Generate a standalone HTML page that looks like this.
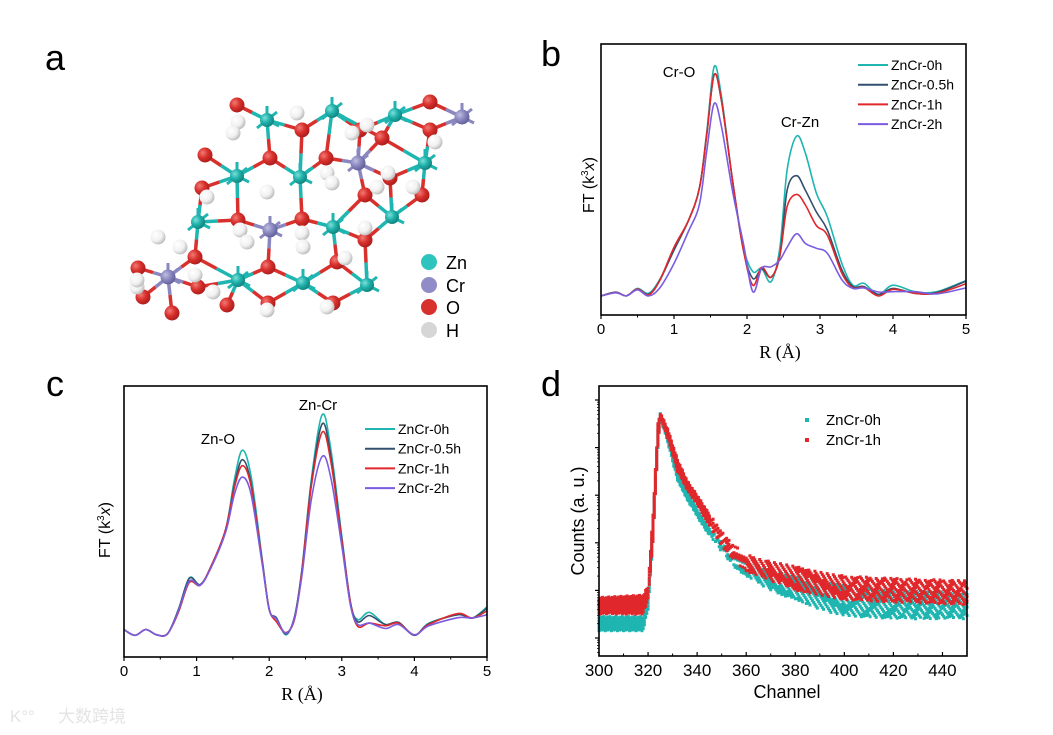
<!DOCTYPE html>
<html><head><meta charset="utf-8"><style>
body{margin:0;background:#fff;}
svg{display:block;font-family:"Liberation Sans",Arial,sans-serif;}
</style></head><body>
<svg id="fig" width="1053" height="735" viewBox="0 0 1053 735" xmlns="http://www.w3.org/2000/svg">
<defs>
<radialGradient id="gH" cx="0.35" cy="0.35" r="0.7"><stop offset="0" stop-color="#ffffff"/><stop offset="0.6" stop-color="#f0f0f0"/><stop offset="1" stop-color="#b8b8b8"/></radialGradient>
<radialGradient id="gO" cx="0.35" cy="0.35" r="0.7"><stop offset="0" stop-color="#f27a76"/><stop offset="0.5" stop-color="#d8302c"/><stop offset="1" stop-color="#a81c1a"/></radialGradient>
<radialGradient id="gZ" cx="0.35" cy="0.35" r="0.7"><stop offset="0" stop-color="#7de0da"/><stop offset="0.5" stop-color="#1fb0aa"/><stop offset="1" stop-color="#11807b"/></radialGradient>
<radialGradient id="gC" cx="0.35" cy="0.35" r="0.7"><stop offset="0" stop-color="#c0bee2"/><stop offset="0.5" stop-color="#8a87c0"/><stop offset="1" stop-color="#5f5c96"/></radialGradient>
</defs>
<text x="45" y="70" font-size="36">a</text>
<text x="541" y="66" font-size="36">b</text>
<text x="46" y="396" font-size="36">c</text>
<text x="541" y="396" font-size="36">d</text>
<g id="structure"></g>
<g id="pb"></g>
<g id="pc"></g>
<g id="pd"></g>
<text x="58" y="722" font-size="17" fill="#e4e4e4" font-family="'Liberation Sans','Noto Sans CJK SC',sans-serif">大数跨境</text>
<text x="10" y="722" font-size="17" fill="#e4e4e4">K°°</text>
</svg>
<script>
const NS="http://www.w3.org/2000/svg";
function mk(parent,tag,attrs,text){const e=document.createElementNS(NS,tag);for(const k in attrs)e.setAttribute(k,attrs[k]);if(text!==undefined)e.textContent=text;parent.appendChild(e);return e;}
const TEAL="#1fb5b0",DARK="#34506e",RED="#e0282c",PURP="#7a5ce0";
const seriesNames=["ZnCr-0h","ZnCr-0.5h","ZnCr-1h","ZnCr-2h"];
const seriesColors=[TEAL,DARK,RED,PURP];

/* ---------- panel b data ---------- */
const bR=[0,0.2,0.35,0.5,0.65,0.8,1.0,1.2,1.35,1.45,1.55,1.65,1.8,1.95,2.08,2.2,2.33,2.45,2.55,2.68,2.8,2.95,3.1,3.3,3.45,3.6,3.8,4.0,4.3,4.6,5.0];
const b0h =[7.0,8.4,7.1,9.8,8.0,12.9,24,35,47,68,91.6,80.6,50,25,16,17.2,12.3,25,53.5,66,59.7,45,36.3,19,11,11.7,7.6,11,8.6,8.6,12.7];
const b05h=[7.0,8.4,7.1,9.6,7.6,12.5,24,35,47,67,88.6,79,50,24,13.5,17,14,22,46,51.4,46,38,31.4,16.6,10.5,10.5,7.6,9.8,8.0,8.3,12.5];
const b1h =[7.0,8.3,7.1,9.6,7.4,12.5,25,35,47,67,88.6,79,50,24,11,17.6,13.9,22,40,44.5,40.6,33,29.5,15.4,10,10.2,7.0,9.5,8.0,8.0,11.5];
const b2h =[7.0,8.2,7.1,9.3,7.0,9.8,19,31,41,61,78,69.5,46,26.4,8.6,17.2,17.8,20.3,25,30,26.4,24.6,22.8,13,9.8,10,8.5,8.6,8.6,7.8,10.0];
const bSeries=[b0h,b05h,b1h,b2h];
const bXTicks=[0,1,2,3,4,5];

/* ---------- panel c data ---------- */
const cR=[0,0.15,0.3,0.45,0.6,0.75,0.9,1.05,1.2,1.4,1.52,1.63,1.75,1.9,2.0,2.1,2.23,2.35,2.45,2.58,2.73,2.85,3.0,3.12,3.22,3.38,3.6,3.78,4.0,4.2,4.6,4.8,5.0];
const c0h =[10.1,8,10.1,8.2,8.6,17.5,29.2,26.7,33.5,47,65.4,76.3,66.7,37,17.5,14.4,8.2,15,32.2,65.4,89.4,76.5,44.5,20,13.8,16.5,12,12.8,8,12.5,15.6,14.4,18.5];
const c05h=[10.1,8,10.1,8.2,8.6,17.5,29,26.7,33.5,47,63.5,72.8,64,36,17.5,14.4,8.5,15,32,64,86,74,43.5,20,13,15.3,12,12.8,8,12.3,15.6,14.4,18];
const c1h =[10.1,8,10.1,8.2,8.6,16.5,27.5,26.5,33.5,47,62.5,70.6,63,36,17.8,13,9.0,14,31.5,63,83,72,43,20,11.3,12.5,11.5,12.5,8.2,12,16,14.4,17];
const c2h =[10.1,8,10.1,8.2,8.6,17,28,26.5,33,46,60,66.4,60,35,17.5,14,8.8,14.5,30,58,74,66,41,19,12,12.5,10.5,12,8.2,11.5,14.5,14.4,15.6];
const cSeries=[c0h,c05h,c1h,c2h];
const cXTicks=[0,1,2,3,4,5];

/* ---------- panel d data (log10 counts band: low/high) ---------- */
const dCh=[300,318,320,322,324,325,328,332,336,340,345,350,355,360,370,380,390,400,420,450];
const dRedLo=[0.5,0.5,0.8,2.0,4.0,4.6,4.2,3.5,3.1,2.8,2.35,1.9,1.6,1.4,1.2,1.0,0.9,0.8,0.75,0.7];
const dRedHi=[0.85,0.9,1.1,2.6,4.5,4.73,4.4,3.75,3.3,3.0,2.6,2.25,1.95,1.75,1.6,1.5,1.4,1.3,1.25,1.2];
const dTealLo=[0.15,0.15,0.6,2.0,4.0,4.6,4.1,3.3,2.9,2.55,2.15,1.8,1.5,1.3,1.0,0.8,0.6,0.45,0.4,0.4];
const dTealHi=[0.45,0.45,0.9,2.5,4.4,4.73,4.3,3.55,3.1,2.7,2.3,2.0,1.75,1.55,1.4,1.3,1.2,1.1,1.0,0.95];
const dXTicks=[300,320,340,360,380,400,420,440];
const dYDecades=[0,1,2,3,4,5];

function smoothPath(pts){let d="M"+pts[0][0].toFixed(1)+","+pts[0][1].toFixed(1);
 for(let i=0;i<pts.length-1;i++){const p0=pts[Math.max(0,i-1)],p1=pts[i],p2=pts[i+1],p3=pts[Math.min(pts.length-1,i+2)];
  const c1=[p1[0]+(p2[0]-p0[0])/6,p1[1]+(p2[1]-p0[1])/6],c2=[p2[0]-(p3[0]-p1[0])/6,p2[1]-(p3[1]-p1[1])/6];
  d+=" C"+c1[0].toFixed(1)+","+c1[1].toFixed(1)+" "+c2[0].toFixed(1)+","+c2[1].toFixed(1)+" "+p2[0].toFixed(1)+","+p2[1].toFixed(1);}
 return d;}

function ftPanel(g,box,R,series,ticks,labels,legendX,legendY,titleX,titleY,ftX,ftY,key){
 const X=v=>box.l+(v-0)/5*(box.r-box.l);
 const Y=v=>box.b-v/100*(box.b-box.t);
 for(let s=0;s<series.length;s++){
  const pts=R.map((r,i)=>[X(r),Y(series[s][i])]);
  const p=mk(g,"path",{d:smoothPath(pts),fill:"none",stroke:seriesColors[s],"stroke-width":1.6});
  
  
 }
 const fr=mk(g,"rect",{x:box.l,y:box.t,width:box.r-box.l,height:box.b-box.t,fill:"none",stroke:"#000","stroke-width":1.6});
 
 
 for(let i=0;i<ticks.length;i++){
  const t=ticks[i];
  const tk=mk(g,"line",{x1:X(t),x2:X(t),y1:box.b,y2:box.b+4,stroke:"#000","stroke-width":1.2});
  
  
  if(i<ticks.length-1){const m=mk(g,"line",{x1:X(t+0.5),x2:X(t+0.5),y1:box.b,y2:box.b+2.5,stroke:"#000","stroke-width":1});
   
   }
  const tl=mk(g,"text",{x:X(t),y:box.b+19,"font-size":15,"text-anchor":"middle"},String(t));
  
  
 }
 const xt=mk(g,"text",{x:titleX,y:titleY,"font-size":18,"text-anchor":"middle","font-family":"'Liberation Serif',serif"},"R (Å)");
 
 
 const yt=mk(g,"text",{transform:`translate(${ftX},${ftY}) rotate(-90)`,"font-size":16,"text-anchor":"middle"});
 
 
 yt.innerHTML='FT (k<tspan dy="-6" font-size="10">3</tspan><tspan dy="6" font-style="italic">x</tspan>)';
 for(const L of labels){const t=mk(g,"text",{x:L[1],y:L[2],"font-size":15,"text-anchor":"middle"},L[0]);
  
  }
 for(let s=0;s<seriesNames.length;s++){
  const y=legendY+s*19.7;
  const ll=mk(g,"line",{x1:legendX,x2:legendX+30,y1:y,y2:y,stroke:seriesColors[s],"stroke-width":2});
  
  
  const lt=mk(g,"text",{x:legendX+33,y:y+5,"font-size":14},seriesNames[s]);
  
  
 }
}
ftPanel(document.getElementById("pb"),{l:601,r:966,t:44,b:315},bR,bSeries,bXTicks,[["Cr-O",679,77],["Cr-Zn",800,127]],858,65,780,358,594,185,"b");
ftPanel(document.getElementById("pc"),{l:124,r:487,t:386,b:657},cR,cSeries,cXTicks,[["Zn-O",218,444],["Zn-Cr",318,410]],365,429,302,700,110,530,"c");

/* ---------- panel d ---------- */
(function(){
 const g=document.getElementById("pd");
 const box={l:599,r:967,t:386,b:656};
 const X=c=>box.l+(c-300)/150*(box.r-box.l);
 const Y=lv=>638-lv*47.6;
 function interp(arr,c){for(let i=0;i<dCh.length-1;i++){if(c<=dCh[i+1]){const f=(c-dCh[i])/(dCh[i+1]-dCh[i]);return arr[i]+f*(arr[i+1]-arr[i]);}}return arr[arr.length-1];}
 function band(lo,hi,color,nm,phase){
  const grp=mk(g,"g",{fill:color});
  
  
  let k=0;
  for(let c=300;c<=450;c+=0.5){
   k++;
   const a=Y(interp(lo,c)),b=Y(interp(hi,c));
   const top=Math.min(a,b),bot=Math.max(a,b);
   const span=bot-top;
   const step=(c>=321&&c<=345)?2.2:(c<321?3.2:4.2);
   const off=((k*7+phase)%5)/5*step;
   for(let y=top+off;y<=bot;y+=step){if(c>345 && ((k+Math.round(y))%3===0))continue;mk(grp,"rect",{x:(X(c)-1.5).toFixed(1),y:(y-1.5).toFixed(1),width:3,height:3});}
  }
 }
 band(dTealLo,dTealHi,TEAL,"d-series-zncr-0h",0);
 band(dRedLo,dRedHi,RED,"d-series-zncr-1h",2);
 const fr=mk(g,"rect",{x:box.l,y:box.t,width:box.r-box.l,height:box.b-box.t,fill:"none",stroke:"#000","stroke-width":1.6});
 
 
 for(const t of dXTicks){
  const tk=mk(g,"line",{x1:X(t),x2:X(t),y1:box.b,y2:box.b-4,stroke:"#000","stroke-width":1.2});
  
  
  const m=mk(g,"line",{x1:X(t+10),x2:X(t+10),y1:box.b,y2:box.b-2.5,stroke:"#000","stroke-width":1});
  
  
  const tl=mk(g,"text",{x:X(t),y:box.b+20,"font-size":17,"text-anchor":"middle"},String(t));
  
  
 }
 for(const dcd of dYDecades){
  const tk=mk(g,"line",{x1:box.l,x2:box.l-4,y1:Y(dcd),y2:Y(dcd),stroke:"#000","stroke-width":1.2});
  
  
  for(let k=2;k<10;k++){const yy=Y(dcd-1+Math.log10(k));if(yy>box.b)continue;
   const m=mk(g,"line",{x1:box.l,x2:box.l-2,y1:yy,y2:yy,stroke:"#000","stroke-width":0.8});
   
   }
 }
 const xt=mk(g,"text",{x:787,y:698,"font-size":18,"text-anchor":"middle"},"Channel");
 
 
 const yt=mk(g,"text",{transform:"translate(584,521) rotate(-90)","font-size":18,"text-anchor":"middle"},"Counts (a. u.)");
 
 
 const lg=[["ZnCr-0h",TEAL,420],["ZnCr-1h",RED,440]];
 for(const L of lg){
  const r=mk(g,"rect",{x:805,y:L[2]-2,width:4,height:4,fill:L[1]});
  
  
  const t=mk(g,"text",{x:826,y:L[2]+5,"font-size":15},L[0]);
  
  
 }
})();

/* ---------- panel a structure ---------- */
(function(){
 const g=document.getElementById("structure");
 const zn=[[267,120],[332,111],[395,115],[237,176],[300,177],[425,163],[198,222],[333,227],[392,217],[238,280],[303,283],[367,285]];
 const cr=[[358,163],[270,230],[168,277],[462,117]];
 const ox=[[237,105],[302,130],[360,130],[430,102],[430,130],[382,138],[205,155],[270,158],[326,158],[202,188],[365,195],[422,195],[238,220],[302,219],[365,240],[195,257],[337,262],[268,267],[138,268],[198,287],[143,297],[227,305],[268,303],[333,303],[172,313],[390,178]];
 const hy=[[238,122],[233,133],[297,113],[352,133],[367,125],[435,142],[327,173],[332,183],[388,173],[377,187],[413,187],[267,192],[207,197],[240,230],[247,242],[302,233],[303,247],[365,228],[345,258],[158,237],[180,247],[195,275],[213,292],[137,287],[137,280],[267,310],[327,307]];
 const metals=zn.map(p=>[p,TEAL]).concat(cr.map(p=>[p,"#8a87c0"]));
 const bonds=mk(g,"g",{"stroke-width":3.5,"stroke-linecap":"butt"});
 
 
 for(const [m,col] of metals){
  for(const o of ox){const dx=o[0]-m[0],dy=o[1]-m[1],d=Math.hypot(dx,dy);
   if(d<58&&d>5){const mx=(m[0]+o[0])/2,my=(m[1]+o[1])/2;
    mk(bonds,"line",{x1:m[0],y1:m[1],x2:mx,y2:my,stroke:col});
    mk(bonds,"line",{x1:mx,y1:my,x2:o[0],y2:o[1],stroke:"#d8302c"});}}
 }
 for(const [m,col] of metals){
  const st=[[0,-14],[10,-8],[12,6],[-10,8]];
  for(const s of st) mk(bonds,"line",{x1:m[0],y1:m[1],x2:m[0]+s[0],y2:m[1]+s[1],stroke:col,"stroke-width":3});
 }
 const balls=mk(g,"g",{});
 
 
 function ball(p,r,fill){mk(balls,"circle",{cx:p[0],cy:p[1],r:r,fill:fill});}
 for(const p of ox)ball(p,7.5,"url(#gO)");
 for(const p of hy)ball(p,7.5,"url(#gH)");
 for(const p of zn)ball(p,7,"url(#gZ)");
 for(const p of cr)ball(p,7.5,"url(#gC)");
 const leg=[["Zn","#2ec4bd",262],["Cr","#8f8cc8",285],["O","#d8302c",307],["H","#d6d6d6",330]];
 for(const L of leg){
  const c=mk(g,"circle",{cx:429,cy:L[2],r:8,fill:L[1]});
  
  
  const t=mk(g,"text",{x:446,y:L[2]+7,"font-size":18},L[0]);
  
  
 }
})();
</script>
</body></html>
